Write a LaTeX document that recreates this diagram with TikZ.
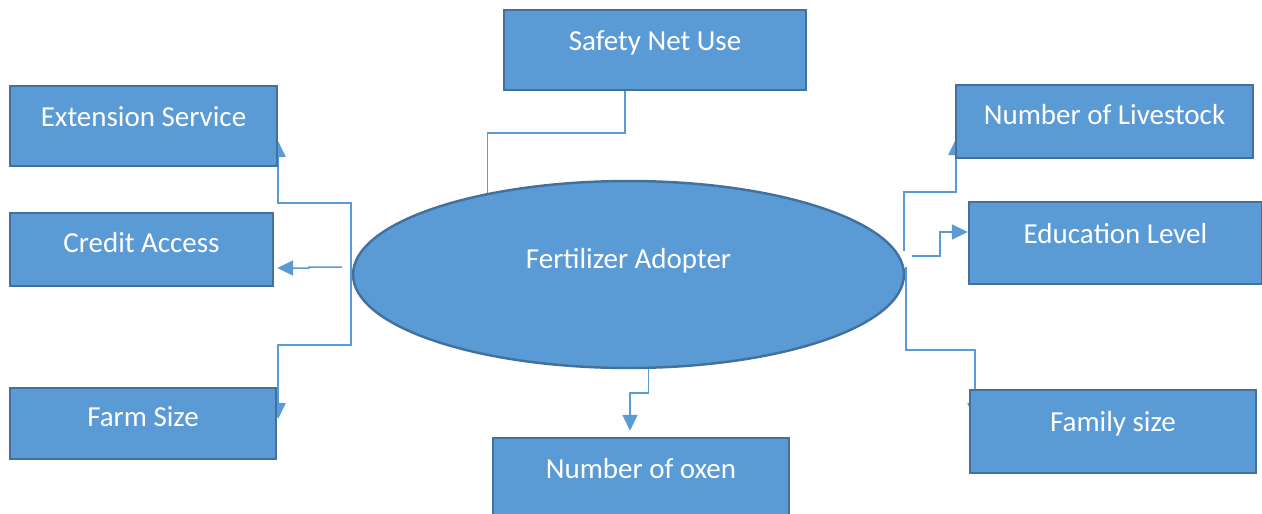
\documentclass[tikz,border=0pt]{standalone}
\usepackage{fontspec}
\setmainfont{Carlito}
\usetikzlibrary{arrows.meta, calc}
\usetikzlibrary{shapes.geometric}
\usetikzlibrary{backgrounds}
\definecolor{boxfill}{HTML}{5B9BD5}
\definecolor{boxline}{HTML}{41719C}
\tikzset{
  factor/.style={draw=boxline, fill=boxfill, line width=1.4pt, inner sep=0pt,
    text=white, font=\fontsize{16.5}{19}\selectfont,
    text height=0.35cm, text depth=0.35cm},
  lower/.style={text depth=0.23cm},
  link/.style={draw=boxfill, line width=0.85pt},
  arr/.style={link, ->}
}
\begin{document}
\begin{tikzpicture}[x=0.02cm, y=-0.02cm, >={Triangle[length=9pt, width=8.5pt]}]
\useasboundingbox (0,0) rectangle (1262,514);

%------------------------------------------------
% Centro: ellisse
%------------------------------------------------
\node[factor, ellipse, minimum width=11.02cm, minimum height=3.74cm,
      text height=0.3cm, text depth=0.54cm] (ell) at (628.5,274.5) {Fertilizer Adopter};

%------------------------------------------------
% Riquadri dei fattori
%------------------------------------------------
\node[factor, minimum width=6.04cm, minimum height=1.6cm]  (safety) at (655,50)      {Safety Net Use};
\node[factor, minimum width=5.34cm, minimum height=1.6cm]  (ext)    at (143.5,126)   {Extension Service};
\node[factor, lower, minimum width=5.26cm, minimum height=1.46cm] (credit) at (141.5,249.5) {Credit Access};
\node[factor, lower, minimum width=5.32cm, minimum height=1.42cm] (farm)   at (143,423.5)   {Farm Size};
\node[factor, minimum width=5.92cm, minimum height=1.6cm]  (oxen)   at (641,478)     {Number of oxen};
\node[factor, lower, minimum width=5.94cm, minimum height=1.46cm] (live)   at (1104.5,121.5) {Number of Livestock};
\node[factor, minimum width=5.86cm, minimum height=1.64cm] (edu)    at (1115.5,243)  {Educa\kern0pt tion Level};
\node[factor, minimum width=5.72cm, minimum height=1.66cm] (fam)    at (1113,431.5)  {Family size};

%------------------------------------------------
% Collegamenti (dietro i riquadri)
%------------------------------------------------
\begin{pgfonlayer}{background}
% Safety Net Use
\draw[link] ($(safety.south)+(-30,0)$) |- (ell.150 |- 0,133) -- (ell.150);

% Lato sinistro
\coordinate (jL) at ($(ell.west)+(-1,0)$);
\draw[arr] (jL) |- ($(ext.south east)+(0,36)$) -- ($(ext.south east)+(0,-26)$);
\draw[arr] (jL) |- ($(farm.north east)+(1,-42)$) -- ($(farm.north east)+(1,32)$);
\draw[arr] ($(ell.west)+(-10,-7.5)$) -- ++(-33,0) -- ++(0,1) -- ($(credit.east)+(3,18.5)$);

% In basso
\draw[arr] ($(ell.south)+(20,0)$) -- ++(0,24) -| ($(oxen.north)+(-11,-6)$);

% Lato destro
\draw[arr] ($(ell.east)+(-1,-24)$) |- ($(live.south west)+(1,33)$) -- ($(live.south west)+(1,-20)$);
\draw[arr] ($(ell.east)+(7,-18.5)$) -- ++(28,0) |- ($(edu.west)+(0,-11)$);
\draw[arr] ($(ell.east)+(1,-7.5)$) |- ($(fam.north west)+(6,-39)$) -- ($(fam.north west)+(6,30)$);
\end{pgfonlayer}

\end{tikzpicture}
\end{document}
